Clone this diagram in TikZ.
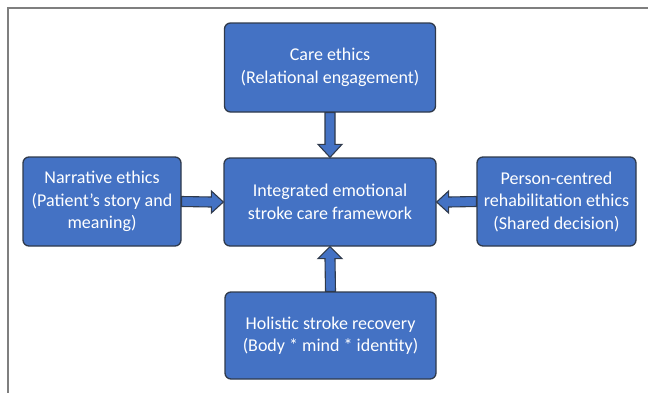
\documentclass[tikz,border=0pt]{standalone}
\usepackage{fontspec}
\setmainfont{Carlito}
\usetikzlibrary{calc}
\definecolor{boxblue}{HTML}{4472C4}
\definecolor{boxedge}{HTML}{2F3A4C}
\definecolor{framegrey}{HTML}{7F7F7F}
\tikzset{
  blockbox/.style={draw=boxedge, fill=boxblue, line width=1.3pt, rounded corners=6pt,
    text=white, align=center, inner sep=0pt,
    font=\fontsize{18}{22.5}\selectfont},
  barrow/.style={draw=boxedge, fill=boxblue, line width=1.1pt, line join=miter}
}
\begin{document}
\begin{tikzpicture}[x=1pt,y=-1pt]
\useasboundingbox (0,0) rectangle (648,392);
\draw[framegrey, line width=1.5pt] (8,400) -- (8,8) -- (660,8);
\node[blockbox, minimum width=211pt, minimum height=89pt] (top) at (330,67.5) {Care ethics\\(Relational engagement)};
\node[blockbox, minimum width=212pt, minimum height=88pt] (center) at (330,202) {Integrated emotional\\stroke care framework};
\node[blockbox, minimum width=158pt, minimum height=89pt] (left) at (102,201.5) {Narrative ethics\\(Patient’s story and\\meaning)};
\node[blockbox, minimum width=159pt, minimum height=89pt] (right) at (556.5,201.5) {Person-centred\\rehabilitation ethics\\(Shared decision)};
\node[blockbox, minimum width=211pt, minimum height=87pt] (bottom) at (330.5,335.5) {Holistic stroke recovery\\(Body * mind * identity)};
% down arrow
\draw[barrow] ($(top.south)+(-5,0)$) -- ($(center.north)+(-5,-13)$) -- ($(center.north)+(-12,-13)$) -- (center.north) -- ($(center.north)+(12,-13)$) -- ($(center.north)+(5,-13)$) -- ($(top.south)+(5,0)$) -- cycle;
% up arrow
\draw[barrow] ($(bottom.north)+(-5,0)$) -- ($(center.south)+(-5,12)$) -- ($(center.south)+(-12,12)$) -- (center.south) -- ($(center.south)+(12,12)$) -- ($(center.south)+(5,12)$) -- ($(bottom.north)+(5,0)$) -- cycle;
% right-pointing arrow from left box
\draw[barrow] ($(left.east)+(0,-5)$) -- ($(center.west)+(-12,-5)$) -- ($(center.west)+(-12,-11)$) -- (center.west) -- ($(center.west)+(-12,11)$) -- ($(center.west)+(-12,5)$) -- ($(left.east)+(0,5)$) -- cycle;
% left-pointing arrow from right box
\draw[barrow] ($(right.west)+(0,-5)$) -- ($(center.east)+(12,-5)$) -- ($(center.east)+(12,-11)$) -- (center.east) -- ($(center.east)+(12,11)$) -- ($(center.east)+(12,5)$) -- ($(right.west)+(0,5)$) -- cycle;
\end{tikzpicture}
\end{document}
